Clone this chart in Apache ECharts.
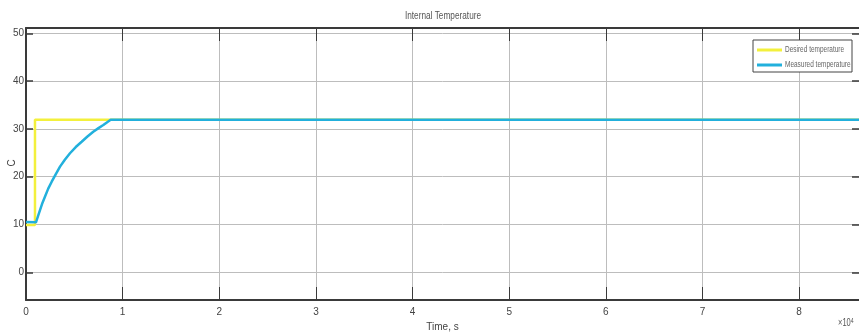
<!DOCTYPE html>
<html>
<head>
<meta charset="utf-8">
<script src="https://cdn.jsdelivr.net/npm/echarts@6/dist/echarts.min.js"></script>
<style>
  html, body { margin: 0; padding: 0; background: #fff; }
  #chart { width: 859px; height: 336px; }
</style>
</head>
<body>
<div id="chart"></div>
<script>
// Time axis in units of 10^4 s
const xMin = 0;
const xMax = 8.62;
const yMin = -5.8;
const yMax = 51.1;

// Setpoint step
const desiredTime = [0, 0.093, 0.093, 8.62];
const desiredTemp = [9.9, 9.9, 31.9, 31.9];

// Measured response
const measuredTime = [0, 0.103, 0.125, 0.145, 0.17, 0.196, 0.23, 0.266, 0.31, 0.352, 0.4, 0.455, 0.515, 0.576, 0.636, 0.696, 0.75, 0.8, 0.84, 0.876, 8.62];
const measuredTemp = [10.5, 10.46, 11.8, 13.0, 14.5, 15.8, 17.5, 18.95, 20.6, 22.1, 23.5, 24.9, 26.2, 27.3, 28.4, 29.4, 30.15, 30.8, 31.4, 31.9, 31.9];

const seriesNames = ['Desired temperature', 'Measured temperature'];
const seriesColors = ['#f3f03c', '#22b0dc'];
const yTickLabels = [0, 10, 20, 30, 40, 50];
const xTickLabels = [0, 1, 2, 3, 4, 5, 6, 7, 8];

const font = '"Liberation Sans", Arial, sans-serif';
const narrow = 0.75; // horizontal squeeze for the condensed-looking captions

const pairs = (xs, ys) => xs.map((x, i) => [x, ys[i]]);

const chart = echarts.init(document.getElementById('chart'), null, { renderer: 'canvas' });

const axisLineStyle = { color: '#3a3a3a', width: 2 };
const gridLineStyle = { color: '#bdbdbd', width: 1 };
const tickStyle = { color: '#3a3a3a', width: 1 };

// Boxed legend, one row per series
const legendBox = { x: 753, y: 40, w: 99, h: 32 };
const legendItems = [];
seriesNames.forEach((name, i) => {
  const cy = legendBox.y + 10 + i * 15;
  legendItems.push({
    type: 'line',
    shape: { x1: legendBox.x + 4, y1: cy, x2: legendBox.x + 29, y2: cy },
    style: { stroke: seriesColors[i], lineWidth: 3 },
    z: 101
  });
  legendItems.push({
    type: 'text',
    x: legendBox.x + 32,
    y: cy,
    scaleX: 0.72,
    style: {
      text: name, fontFamily: font, fontSize: 9, fill: '#666',
      textAlign: 'left', textVerticalAlign: 'middle'
    },
    z: 101
  });
});

chart.setOption({
  animation: false,
  backgroundColor: '#ffffff',
  grid: { left: 26, right: 0, top: 28, bottom: 36, containLabel: false, outerBoundsMode: 'none' },
  xAxis: [
    {
      type: 'value',
      min: xMin,
      max: xMax,
      interval: 1,
      name: 'Time, s',
      nameLocation: 'middle',
      nameGap: 22,
      nameTextStyle: { fontFamily: font, fontSize: 10, color: '#444' },
      axisLine: { show: true, onZero: false, lineStyle: axisLineStyle },
      axisTick: { show: true, inside: true, length: 13, lineStyle: tickStyle },
      axisLabel: {
        fontFamily: font, fontSize: 10, color: '#444', margin: 7,
        showMaxLabel: false,
        formatter: v => (xTickLabels.indexOf(v) >= 0 ? String(v) : '')
      },
      splitLine: { show: true, lineStyle: gridLineStyle }
    },
    {
      type: 'value',
      position: 'top',
      min: xMin,
      max: xMax,
      interval: 1,
      axisLine: { show: true, onZero: false, lineStyle: axisLineStyle },
      axisTick: { show: true, inside: true, length: 13, lineStyle: tickStyle },
      axisLabel: { show: false },
      splitLine: { show: false }
    }
  ],
  yAxis: [
    {
      type: 'value',
      min: yMin,
      max: yMax,
      splitNumber: 5,
      axisLine: { show: true, onZero: false, lineStyle: axisLineStyle },
      axisTick: { show: true, inside: true, length: 7, lineStyle: { color: '#3a3a3a', width: 1.5 } },
      axisLabel: {
        fontFamily: font, fontSize: 10, color: '#444', margin: 2,
        showMinLabel: false, showMaxLabel: false,
        formatter: v => (yTickLabels.indexOf(v) >= 0 ? String(v) : '')
      },
      splitLine: { show: true, lineStyle: gridLineStyle }
    },
    {
      type: 'value',
      position: 'right',
      min: yMin,
      max: yMax,
      splitNumber: 5,
      axisLine: { show: false, onZero: false },
      axisTick: { show: true, inside: true, length: 7, lineStyle: { color: '#3a3a3a', width: 1.5 } },
      axisLabel: { show: false },
      splitLine: { show: false }
    }
  ],
  graphic: [
    {
      type: 'text',
      x: 443,
      y: 16,
      scaleX: narrow,
      style: {
        text: 'Internal Temperature', fontFamily: font, fontSize: 11, fill: '#555',
        textAlign: 'center', textVerticalAlign: 'middle'
      }
    },
    {
      type: 'text',
      x: 12,
      y: 163,
      rotation: Math.PI / 2,
      style: {
        text: 'C', fontFamily: font, fontSize: 10, fill: '#444',
        textAlign: 'center', textVerticalAlign: 'middle'
      }
    },
    {
      type: 'text',
      x: 838,
      y: 318,
      scaleX: narrow,
      style: {
        text: '×10{s|4}',
        rich: { s: { fontSize: 7, verticalAlign: 'top', fill: '#555', fontFamily: font } },
        fontFamily: font,
        fontSize: 10,
        fill: '#555'
      }
    },
    {
      type: 'group',
      children: [
        {
          type: 'rect',
          shape: { x: legendBox.x, y: legendBox.y, width: legendBox.w, height: legendBox.h },
          style: { fill: '#fff', stroke: '#444', lineWidth: 1 },
          z: 100
        }
      ].concat(legendItems)
    }
  ],
  series: [
    {
      name: seriesNames[0],
      type: 'line',
      showSymbol: false,
      data: pairs(desiredTime, desiredTemp),
      itemStyle: { color: seriesColors[0] },
      lineStyle: { color: seriesColors[0], width: 2.5 },
      z: 2
    },
    {
      name: seriesNames[1],
      type: 'line',
      showSymbol: false,
      smooth: false,
      data: pairs(measuredTime, measuredTemp),
      itemStyle: { color: seriesColors[1] },
      lineStyle: { color: seriesColors[1], width: 2.5 },
      z: 3
    }
  ]
});
</script>
</body>
</html>
